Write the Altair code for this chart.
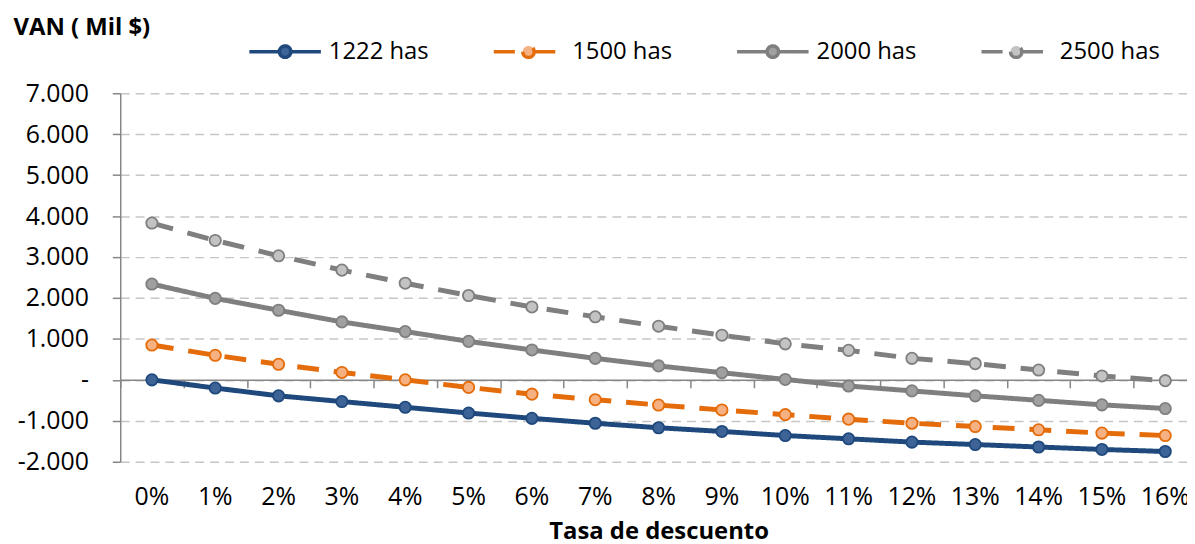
import altair as alt
import pandas as pd

categories = ["0%", "1%", "2%", "3%", "4%", "5%", "6%", "7%", "8%", "9%",
              "10%", "11%", "12%", "13%", "14%", "15%", "16%"]
series = ["1222 has", "1500 has", "2000 has", "2500 has"]

v1222 = [0, -200, -390, -530, -670, -810, -940, -1060, -1170, -1260,
         -1360, -1440, -1520, -1580, -1640, -1700, -1750]
v1500 = [850, 600, 380, 180, 0, -185, -350, -485, -615, -735,
         -850, -960, -1060, -1140, -1220, -1300, -1360]
v2000 = [2340, 1990, 1700, 1415, 1180, 940, 730, 525, 340, 175,
         10, -150, -270, -390, -500, -610, -700]
v2500 = [3830, 3405, 3030, 2680, 2360, 2060, 1780, 1540, 1310, 1090,
         880, 720, 525, 395, 240, 95, -20]

line_colors = ["#1F497D", "#E46C0A", "#7F7F7F", "#7F7F7F"]
fill_colors = ["#3E6497", "#F6B183", "#A0A0A0", "#C3C3C3"]
dashes = [[1, 0], [22, 15], [1, 0], [22, 15]]

rows = []
for name, vals in zip(series, [v1222, v1500, v2000, v2500]):
    for c, v in zip(categories, vals):
        rows.append({"cat": c, "series": name, "val": v})
df = pd.DataFrame(rows)

FONT = "Open Sans"
GRAY = "#868686"
H = 371
W = 1066

R = "0.16"
CIRCLE = f"M-{R},0A{R},{R} 0 1,0 {R},0A{R},{R} 0 1,0 -{R},0Z"
SOLID = f"M-1,0H-{R}M{R},0H1" + CIRCLE
DASHED = f"M-0.97,0H-0.38M{R},0H0.75" + CIRCLE
legend_shapes = [SOLID, DASHED, SOLID, DASHED]

xscale = alt.Scale(type="band", domain=categories, range=[0, 1084],
                   paddingInner=0, paddingOuter=0)
yscale = alt.Scale(domain=[-2000, 7000], nice=False)
cscale = alt.Scale(domain=series, range=line_colors)
fscale = alt.Scale(domain=series, range=fill_colors)

y_axis = alt.Axis(
    values=list(range(-2000, 7001, 1000)),
    labelExpr="datum.value == 0 ? '-\u00a0\u00a0\u00a0' : (datum.value < 0 ? '-' : '') + replace(format(abs(datum.value), ','), ',', '.')",
    labelFont=FONT, labelFontSize=25, labelColor="#000000", labelPadding=24,
    tickSize=8, tickColor=GRAY, tickWidth=1.5,
    domainColor=GRAY, domainWidth=1.5,
    grid=True, gridColor="#C6C6C6", gridDash=[9, 6], gridWidth=1.5,
    title="VAN ( Mil $)", titleAngle=0, titleX=-108, titleY=-59,
    titleAlign="left", titleBaseline="alphabetic",
    titleFont=FONT, titleFontSize=24, titleFontWeight="bold", titleColor="#000000",
)

x_axis = alt.Axis(
    orient="bottom", labelAngle=0, labelFont=FONT, labelFontSize=25,
    labelColor="#000000", labelBaseline="alphabetic", labelPadding=43,
    ticks=False, tickSize=0, domain=False, grid=False,
    title="Tasa de descuento", titleX=542, titleY=77, titleAlign="center",
    titleBaseline="alphabetic", titleFont=FONT, titleFontSize=24,
    titleFontWeight="bold", titleColor="#000000",
)

zero_axis = alt.Axis(
    orient="bottom", offset=-H * 2000 / 9000, labels=False, title=None,
    ticks=True, tickBand="extent", tickSize=8, tickColor=GRAY, tickWidth=1.5,
    domain=True, domainColor=GRAY, domainWidth=1.5, grid=False,
)

legend = alt.Legend(
    orient="none", legendX=128, legendY=-80, direction="horizontal",
    title=None, symbolSize=5184, symbolStrokeWidth=3.5,
    labelFont=FONT, labelFontSize=24, labelColor="#000000", labelOffset=6,
    columnPadding=58, symbolOpacity=1,
)

lines = alt.Chart(df).mark_line(strokeWidth=5, strokeCap="butt").encode(
    x=alt.X("cat:N", sort=categories, scale=xscale, axis=x_axis),
    y=alt.Y("val:Q", scale=yscale, axis=y_axis),
    color=alt.Color("series:N", scale=cscale, legend=legend),
    strokeDash=alt.StrokeDash("series:N", scale=alt.Scale(domain=series, range=dashes), legend=None),
    detail="series:N",
)

points = alt.Chart(df).mark_point(filled=False, size=130, strokeWidth=1.8, opacity=1).encode(
    x=alt.X("cat:N", sort=categories, scale=xscale, axis=zero_axis),
    y=alt.Y("val:Q", scale=yscale, axis=y_axis),
    color=alt.Color("series:N", scale=cscale, legend=legend),
    fill=alt.Fill("series:N", scale=fscale, legend=legend),
)

legend_layer = alt.Chart(df).transform_filter("false").mark_point(
    filled=False, strokeWidth=3.5, opacity=1
).encode(
    color=alt.Color("series:N", scale=cscale, legend=legend),
    fill=alt.Fill("series:N", scale=fscale, legend=legend),
    shape=alt.Shape("series:N", scale=alt.Scale(domain=series, range=legend_shapes), legend=legend),
)

chart = alt.layer(lines, points, legend_layer).resolve_axis(x="independent").properties(
    width=W, height=H,
    autosize=alt.AutoSizeParams(type="none"),
    padding={"left": 113, "top": 84, "right": 8, "bottom": 81},
).configure(font=FONT).configure_view(stroke=None)

chart.save("out.html", embed_options={"renderer": "svg", "actions": False})
